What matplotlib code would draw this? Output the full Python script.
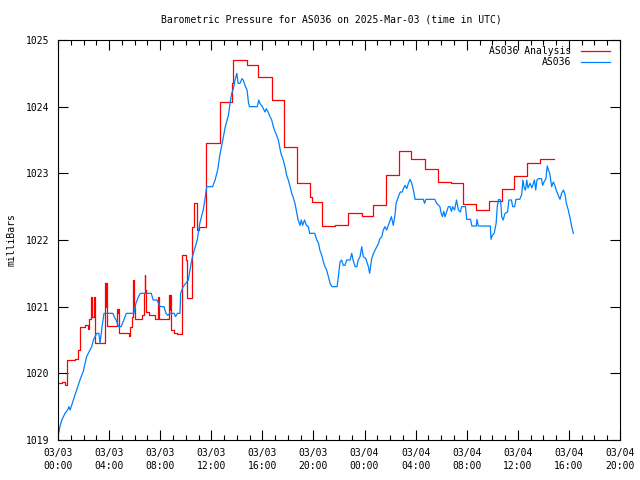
import matplotlib.pyplot as plt
from matplotlib.lines import Line2D
from matplotlib.ticker import MultipleLocator

title = "Barometric Pressure for AS036 on 2025-Mar-03 (time in UTC)"
ylabel = "milliBars"

# x axis is hours since 2025-03-03 00:00 UTC
tick_hours = [0, 4, 8, 12, 16, 20, 24, 28, 32, 36, 40, 44]
tick_labels = ["03/03\n00:00", "03/03\n04:00", "03/03\n08:00", "03/03\n12:00",
               "03/03\n16:00", "03/03\n20:00", "03/04\n00:00", "03/04\n04:00",
               "03/04\n08:00", "03/04\n12:00", "03/04\n16:00", "03/04\n20:00"]

# analysis (red), drawn as steps
analysis_hours = [0.0, 0.3, 0.58, 0.68, 1.33, 1.6, 1.72, 2.15, 2.35, 2.45, 2.55, 2.6,
                  2.66, 2.8, 2.9, 3.66, 3.72, 3.76, 3.82, 4.62, 4.68, 4.72, 4.8,
                  5.55, 5.62, 5.78, 5.88, 5.95, 6.05, 6.6, 6.72, 6.78, 6.85, 6.92,
                  7.1, 7.6, 7.85, 7.92, 8.67, 8.73, 8.78, 8.87, 9.1, 9.35, 9.68,
                  10.05, 10.1, 10.5, 10.62, 10.88, 11.0, 11.62, 12.68, 13.6, 13.7,
                  14.76, 15.69, 16.72, 17.72, 18.74, 19.73, 19.85, 20.65, 21.7,
                  22.73, 23.78, 24.7, 25.7, 26.7, 27.64, 28.74, 29.78, 30.75, 31.7,
                  32.7, 33.77, 34.74, 35.7, 36.7, 37.74, 38.8]
analysis_mb = [1019.85, 1019.87, 1019.83, 1020.2, 1020.21, 1020.35, 1020.69, 1020.72,
               1020.67, 1020.82, 1021.05, 1021.15, 1020.85, 1021.15, 1020.45, 1021.35,
               1021.0, 1021.35, 1020.71, 1020.97, 1020.9, 1020.97, 1020.6, 1020.56,
               1020.7, 1020.85, 1021.4, 1021.0, 1020.81, 1020.87, 1021.2, 1021.47,
               1021.25, 1020.92, 1020.87, 1020.82, 1021.15, 1020.81, 1021.17, 1020.95,
               1021.17, 1020.65, 1020.61, 1020.59, 1021.78, 1021.7, 1021.13, 1022.2,
               1022.55, 1022.15, 1022.2, 1023.45, 1024.07, 1024.35, 1024.7, 1024.62,
               1024.44, 1024.1, 1023.4, 1022.85, 1022.65, 1022.57, 1022.21, 1022.22,
               1022.4, 1022.36, 1022.52, 1022.97, 1023.34, 1023.22, 1023.06, 1022.87,
               1022.85, 1022.54, 1022.45, 1022.58, 1022.77, 1022.96, 1023.15, 1023.21,
               1023.21]

# station observations (blue)
obs_hours = [0.0, 0.05, 0.15, 0.3, 0.55, 0.75, 0.85, 0.95, 1.2, 1.46, 1.72, 1.98,
             2.24, 2.37, 2.64, 2.77, 3.03, 3.2, 3.29, 3.45, 3.6, 4.3, 4.4, 4.55,
             4.75, 4.95, 5.15, 5.35, 5.95, 6.1, 6.3, 6.45, 7.3, 7.45, 7.75, 8.0,
             8.3, 8.45, 8.6, 8.75, 9.1, 9.2, 9.35, 9.55, 9.6, 9.8, 10.2, 10.47,
             10.6, 10.9, 11.1, 11.37, 11.5, 11.64, 12.1, 12.3, 12.5, 12.65, 12.8,
             12.95, 13.1, 13.2, 13.34, 13.47, 13.6, 13.73, 13.86, 14.0, 14.1, 14.25,
             14.4, 14.5, 14.64, 14.8, 14.85, 14.92, 15.0, 15.6, 15.72, 15.8, 16.0,
             16.2, 16.3, 16.45, 16.6, 16.73, 16.86, 17.0, 17.12, 17.25, 17.4, 17.5,
             17.64, 17.77, 17.9, 18.03, 18.17, 18.3, 18.4, 18.55, 18.7, 18.8, 18.95,
             19.05, 19.15, 19.3, 19.45, 19.6, 19.7, 20.1, 20.26, 20.4, 20.5, 20.65,
             20.78, 20.9, 21.03, 21.17, 21.3, 21.45, 21.85, 21.95, 22.08, 22.2,
             22.34, 22.47, 22.6, 22.87, 23.0, 23.1, 23.26, 23.4, 23.5, 23.65, 23.78,
             23.9, 24.1, 24.3, 24.4, 24.56, 24.7, 24.96, 25.1, 25.2, 25.35, 25.47,
             25.6, 25.73, 25.86, 26.0, 26.1, 26.25, 26.4, 26.47, 26.65, 26.8, 26.95,
             27.04, 27.17, 27.3, 27.43, 27.56, 27.7, 27.82, 27.96, 28.6, 28.7, 28.8,
             29.5, 29.65, 29.9, 30.0, 30.1, 30.2, 30.3, 30.56, 30.7, 30.8, 30.9,
             31.05, 31.2, 31.35, 31.5, 31.6, 31.9, 32.0, 32.3, 32.4, 32.75, 32.8,
             32.9, 33.85, 33.9, 34.0, 34.15, 34.3, 34.4, 34.5, 34.65, 34.74, 34.85,
             35.0, 35.2, 35.3, 35.5, 35.6, 35.75, 35.86, 36.15, 36.3, 36.4, 36.5,
             36.6, 36.7, 36.8, 36.96, 37.1, 37.3, 37.4, 37.5, 37.6, 37.85, 37.95,
             38.05, 38.2, 38.3, 38.4, 38.5, 38.65, 38.78, 38.9, 39.0, 39.15, 39.3,
             39.43, 39.57, 39.7, 39.8, 39.95, 40.1, 40.22, 40.35]
obs_mb = [1019.15, 1019.1, 1019.2, 1019.3, 1019.4, 1019.45, 1019.5, 1019.45, 1019.6,
          1019.75, 1019.9, 1020.03, 1020.25, 1020.3, 1020.4, 1020.5, 1020.6, 1020.6,
          1020.45, 1020.7, 1020.9, 1020.9, 1020.85, 1020.8, 1020.7, 1020.7, 1020.8,
          1020.9, 1020.9, 1021.05, 1021.15, 1021.2, 1021.2, 1021.1, 1021.1, 1021.0,
          1021.0, 1020.9, 1020.87, 1020.9, 1020.9, 1020.85, 1020.9, 1020.9, 1021.2,
          1021.3, 1021.4, 1021.7, 1021.8, 1022.0, 1022.25, 1022.45, 1022.6, 1022.8,
          1022.8, 1022.9, 1023.05, 1023.25, 1023.4, 1023.55, 1023.7, 1023.77, 1023.87,
          1024.05, 1024.2, 1024.27, 1024.4, 1024.5, 1024.35, 1024.35, 1024.42, 1024.4,
          1024.32, 1024.25, 1024.17, 1024.05, 1024.0, 1024.0, 1024.1, 1024.05, 1024.0,
          1023.92, 1023.97, 1023.92, 1023.85, 1023.8, 1023.7, 1023.62, 1023.57, 1023.5,
          1023.35, 1023.27, 1023.2, 1023.1, 1022.97, 1022.9, 1022.8, 1022.7, 1022.65,
          1022.55, 1022.4, 1022.3, 1022.22, 1022.3, 1022.22, 1022.3, 1022.22, 1022.2,
          1022.1, 1022.1, 1022.0, 1021.95, 1021.85, 1021.77, 1021.67, 1021.6, 1021.55,
          1021.45, 1021.35, 1021.3, 1021.3, 1021.45, 1021.67, 1021.7, 1021.62, 1021.62,
          1021.7, 1021.7, 1021.8, 1021.7, 1021.6, 1021.6, 1021.7, 1021.75, 1021.9,
          1021.75, 1021.72, 1021.6, 1021.5, 1021.72, 1021.8, 1021.9, 1021.95, 1022.02,
          1022.05, 1022.15, 1022.2, 1022.15, 1022.22, 1022.3, 1022.35, 1022.22, 1022.4,
          1022.55, 1022.65, 1022.72, 1022.72, 1022.77, 1022.82, 1022.77, 1022.85,
          1022.91, 1022.85, 1022.75, 1022.61, 1022.61, 1022.55, 1022.61, 1022.61,
          1022.55, 1022.5, 1022.4, 1022.35, 1022.43, 1022.35, 1022.5, 1022.5, 1022.43,
          1022.5, 1022.45, 1022.6, 1022.45, 1022.42, 1022.5, 1022.5, 1022.31, 1022.31,
          1022.21, 1022.21, 1022.31, 1022.21, 1022.21, 1022.01, 1022.07, 1022.1,
          1022.25, 1022.52, 1022.61, 1022.6, 1022.35, 1022.3, 1022.4, 1022.42, 1022.6,
          1022.6, 1022.5, 1022.5, 1022.61, 1022.61, 1022.68, 1022.9, 1022.78, 1022.75,
          1022.9, 1022.78, 1022.85, 1022.78, 1022.9, 1022.75, 1022.9, 1022.92, 1022.92,
          1022.82, 1022.87, 1022.92, 1023.11, 1023.05, 1023.0, 1022.8, 1022.87, 1022.82,
          1022.75, 1022.68, 1022.61, 1022.7, 1022.75, 1022.68, 1022.55, 1022.45,
          1022.32, 1022.2, 1022.1]

red = "#ff0000"
blue = "#0080ff"
font = "DejaVu Sans Mono"
fs = 7

fig = plt.figure(figsize=(6.4, 4.8), dpi=100)
ax = fig.add_axes([58 / 640, 40 / 480, 562 / 640, 400 / 480])

ax.plot(analysis_hours, analysis_mb, drawstyle="steps-post", color=red, lw=0.9)
ax.plot(obs_hours, obs_mb, color=blue, lw=0.9)

ax.set_xlim(0, 44)
ax.set_ylim(1019, 1025)
ax.set_xticks(tick_hours)
ax.set_xticklabels(tick_labels, fontfamily=font, fontsize=fs, linespacing=1.35)
ax.xaxis.set_minor_locator(MultipleLocator(1))
ax.set_yticks([1019, 1020, 1021, 1022, 1023, 1024, 1025])
for lab in ax.get_yticklabels():
    lab.set_fontfamily(font)
    lab.set_fontsize(fs)
ax.tick_params(which="both", direction="in", top=True, right=True, width=0.8)
ax.tick_params(which="major", length=7, pad=6)
ax.tick_params(which="minor", length=3.5)
for sp in ax.spines.values():
    sp.set_linewidth(0.8)

# legend, gnuplot style (text right aligned, sample line to the right)
ax.text(0.914, 0.972, "AS036 Analysis", transform=ax.transAxes, ha="right",
        va="center", fontfamily=font, fontsize=fs)
ax.text(0.914, 0.944, "AS036", transform=ax.transAxes, ha="right",
        va="center", fontfamily=font, fontsize=fs)
ax.add_line(Line2D([0.930, 0.982], [0.972, 0.972], transform=ax.transAxes, color=red, lw=0.9))
ax.add_line(Line2D([0.930, 0.982], [0.944, 0.944], transform=ax.transAxes, color=blue, lw=0.9))

fig.text(0.518, 1 - 19 / 480, title, ha="center", va="center", fontfamily=font, fontsize=fs)
fig.text(12 / 640, 0.5, ylabel, rotation=90, ha="center", va="center", fontfamily=font, fontsize=fs)

fig.savefig("out.png", dpi=100)
